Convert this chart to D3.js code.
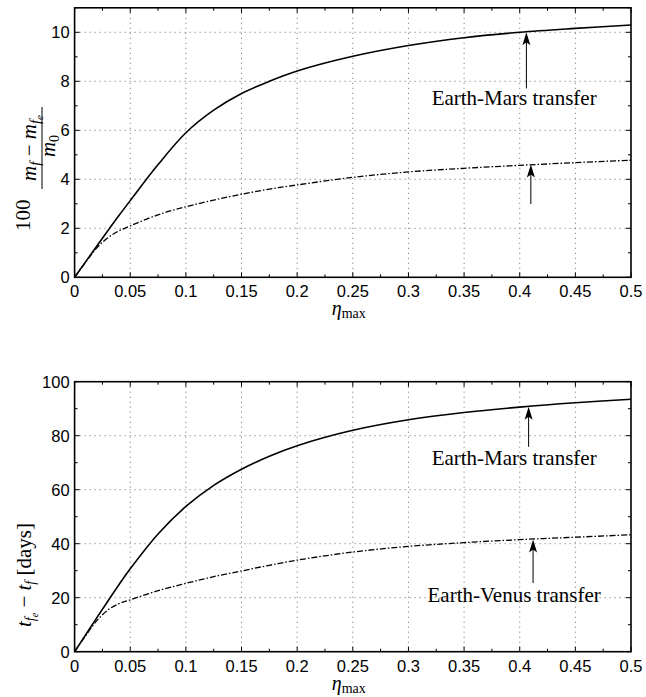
<!DOCTYPE html>
<html>
<head>
<meta charset="utf-8">
<script src="https://cdn.jsdelivr.net/npm/d3@7"></script>
<style>
  body { margin: 0; background: #fff; }
  svg { display: block; }
  .tick-label { font-family: "Liberation Sans", Arial, sans-serif; font-size: 16.5px; fill: #000; }
  .serif { font-family: "Liberation Serif", "Times New Roman", serif; fill: #000; }
</style>
</head>
<body>
<script>

// eta_max sample points (shared by all curves)
const eta = [0, 0.01, 0.02, 0.03, 0.04, 0.05, 0.075, 0.1, 0.125, 0.15, 0.175, 0.2, 0.25, 0.3, 0.35, 0.4, 0.45, 0.5];

// top panel: 100 (m_f - m_fe) / m_0
const massMars  = [0, 0.64, 1.28, 1.91, 2.53, 3.13, 4.6, 5.9, 6.82, 7.5, 8.0, 8.42, 9.02, 9.46, 9.78, 10.0, 10.16, 10.3];
const massVenus = [0, 0.62, 1.2, 1.62, 1.9, 2.1, 2.55, 2.88, 3.15, 3.39, 3.6, 3.77, 4.08, 4.3, 4.45, 4.57, 4.68, 4.78];

// bottom panel: t_fe - t_f [days]
const daysMars  = [0, 6.3, 12.6, 18.8, 24.9, 30.7, 43.6, 53.8, 61.6, 67.6, 72.4, 76.3, 82, 85.9, 88.6, 90.6, 92.2, 93.5];
const daysVenus = [0, 6, 11.5, 15.5, 17.8, 19.2, 22.6, 25.3, 27.8, 29.9, 32.0, 33.9, 36.9, 39.0, 40.4, 41.5, 42.4, 43.3];

// tick values
const xTicks = [0, 0.05, 0.1, 0.15, 0.2, 0.25, 0.3, 0.35, 0.4, 0.45, 0.5];
const xMinor = [0.025, 0.075, 0.125, 0.175, 0.225, 0.275, 0.325, 0.375, 0.425, 0.475];
const topYTicks = [0, 2, 4, 6, 8, 10];
const topYMinor = [1, 3, 5, 7, 9, 11];
const botYTicks = [0, 20, 40, 60, 80, 100];
const botYMinor = [10, 30, 50, 70, 90];

// arrows: [eta, tip value, tail value]; labels: [eta, baseline value, text]
const topArrows = [[0.406, 10.0, 7.71], [0.41, 4.6, 2.99]];
const topLabels = [[0.395, 7.05, "Earth-Mars transfer"]];
const botArrows = [[0.408, 90.7, 75.9], [0.412, 41.6, 25.4]];
const botLabels = [[0.395, 69.1, "Earth-Mars transfer"], [0.395, 18.4, "Earth-Venus transfer"]];

const W = 646, H = 697;
const svg = d3.select("body").append("svg").attr("width", W).attr("height", H);

const left = 74.6, right = 631;

function panel(top, bottom, yMax, yTicks, yMinor, series, arrows, labels) {
  const x = d3.scaleLinear().domain([0, 0.5]).range([left, right]);
  const y = d3.scaleLinear().domain([0, yMax]).range([bottom, top]);
  const g = svg.append("g");

  // dotted grid
  g.selectAll(".gx").data(xTicks.slice(1, -1)).enter().append("line")
    .attr("x1", d => x(d)).attr("x2", d => x(d))
    .attr("y1", top).attr("y2", bottom)
    .attr("stroke", "#444").attr("stroke-width", 0.8).attr("stroke-dasharray", "1,4");
  g.selectAll(".gy").data(yTicks.filter(d => d > 0 && d < yMax)).enter().append("line")
    .attr("x1", left).attr("x2", right)
    .attr("y1", d => y(d)).attr("y2", d => y(d))
    .attr("stroke", "#444").attr("stroke-width", 0.8).attr("stroke-dasharray", "1,4");

  // curves
  const line = d3.line().x((d, i) => x(eta[i])).y(d => y(d)).curve(d3.curveCatmullRom.alpha(0.5));
  series.forEach(s => {
    g.append("path").attr("d", line(s.values))
      .attr("fill", "none").attr("stroke", "#000")
      .attr("stroke-width", s.dash ? 1.3 : 1.6)
      .attr("stroke-dasharray", s.dash ? "6,2,1.5,2" : null);
  });

  // inward ticks on all four sides
  const tk = (vals, len) => {
    vals.forEach(v => {
      g.append("line").attr("x1", x(v)).attr("x2", x(v)).attr("y1", bottom).attr("y2", bottom - len).attr("stroke", "#000");
      g.append("line").attr("x1", x(v)).attr("x2", x(v)).attr("y1", top).attr("y2", top + len).attr("stroke", "#000");
    });
  };
  tk(xTicks, 5); tk(xMinor, 3);
  const tky = (vals, len) => {
    vals.forEach(v => {
      g.append("line").attr("x1", left).attr("x2", left + len).attr("y1", y(v)).attr("y2", y(v)).attr("stroke", "#000");
      g.append("line").attr("x1", right).attr("x2", right - len).attr("y1", y(v)).attr("y2", y(v)).attr("stroke", "#000");
    });
  };
  tky(yTicks, 5); tky(yMinor, 3);

  // box
  g.append("rect").attr("x", left).attr("y", top)
    .attr("width", right - left).attr("height", bottom - top)
    .attr("fill", "none").attr("stroke", "#000").attr("stroke-width", 1.6);

  // tick labels
  g.selectAll(".xl").data(xTicks).enter().append("text")
    .attr("class", "tick-label").attr("x", d => x(d)).attr("y", bottom + 20)
    .attr("text-anchor", "middle").text(d => d);
  g.selectAll(".yl").data(yTicks).enter().append("text")
    .attr("class", "tick-label").attr("x", left - 5).attr("y", d => y(d) + 6)
    .attr("text-anchor", "end").text(d => d);

  // x label: eta_max
  const xl = g.append("text").attr("class", "serif").attr("x", x(0.25) - 4).attr("y", bottom + 38)
    .attr("text-anchor", "middle");
  xl.append("tspan").attr("font-style", "italic").attr("font-size", 20).text("η");
  xl.append("tspan").attr("font-size", 14).attr("dy", 3).text("max");

  // arrows
  arrows.forEach(a => {
    const ax = x(a[0]), tip = y(a[1]), tail = y(a[2]);
    g.append("line").attr("x1", ax).attr("x2", ax).attr("y1", tail).attr("y2", tip + 8)
      .attr("stroke", "#000").attr("stroke-width", 1);
    g.append("path")
      .attr("d", `M${ax},${tip} L${ax - 4},${tip + 13} L${ax},${tip + 10} L${ax + 4},${tip + 13} Z`)
      .attr("fill", "#000");
  });

  labels.forEach(l => {
    g.append("text").attr("class", "serif").attr("font-size", 21)
      .attr("x", x(l[0])).attr("y", y(l[1])).attr("text-anchor", "middle").text(l[2]);
  });
  return g;
}

panel(7.8, 277.3, 11, topYTicks, topYMinor,
  [{values: massMars, dash: false}, {values: massVenus, dash: true}], topArrows, topLabels);
panel(381.7, 651.7, 100, botYTicks, botYMinor,
  [{values: daysMars, dash: false}, {values: daysVenus, dash: true}], botArrows, botLabels);

// y label, top panel: 100 (m_f - m_fe)/m_0
const yl1 = svg.append("g").attr("transform", "rotate(-90)").attr("class", "serif");
yl1.append("text").attr("x", -231).attr("y", 30).attr("font-size", 21).text("100");
const num = yl1.append("text").attr("x", -148).attr("y", 36).attr("font-size", 21).attr("text-anchor", "middle");
num.append("tspan").attr("font-style", "italic").text("m");
num.append("tspan").attr("font-style", "italic").attr("font-size", 15).attr("dy", 4).text("f");
num.append("tspan").attr("dy", -4).text(" − ");
num.append("tspan").attr("font-style", "italic").text("m");
num.append("tspan").attr("font-style", "italic").attr("font-size", 15).attr("dy", 4).text("f");
num.append("tspan").attr("font-style", "italic").attr("font-size", 11).attr("dy", 3).text("e");
yl1.append("line").attr("x1", -189).attr("x2", -107).attr("y1", 42).attr("y2", 42)
  .attr("stroke", "#000").attr("stroke-width", 1);
const den = yl1.append("text").attr("x", -146).attr("y", 55).attr("font-size", 21).attr("text-anchor", "middle");
den.append("tspan").attr("font-style", "italic").text("m");
den.append("tspan").attr("font-size", 14).attr("dy", 4).text("0");

// y label, bottom panel: t_fe - t_f [days]
const yl2 = svg.append("g").attr("transform", "rotate(-90)").attr("class", "serif");
const t2 = yl2.append("text").attr("x", -627).attr("y", 31).attr("font-size", 21);
t2.append("tspan").attr("font-style", "italic").text("t");
t2.append("tspan").attr("font-style", "italic").attr("font-size", 14).attr("dy", 4).text("f");
t2.append("tspan").attr("font-style", "italic").attr("font-size", 10).attr("dy", 3).text("e");
t2.append("tspan").attr("dy", -7).text(" − ");
t2.append("tspan").attr("font-style", "italic").text("t");
t2.append("tspan").attr("font-style", "italic").attr("font-size", 14).attr("dy", 4).text("f");
t2.append("tspan").attr("dy", -4).text(" [days]");

</script>
</body>
</html>
